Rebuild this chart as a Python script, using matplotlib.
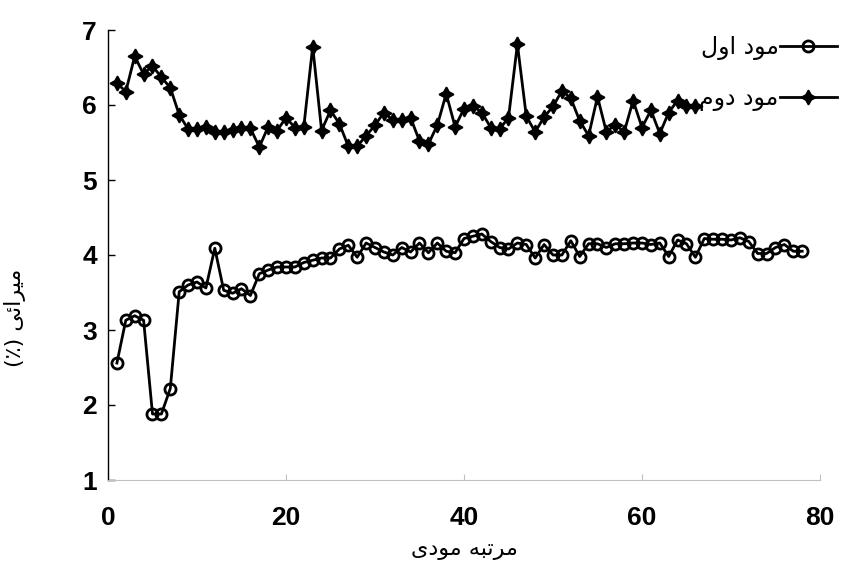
import numpy as np
import matplotlib
matplotlib.use("Agg")
import matplotlib.pyplot as plt

# damping (%) per mode order
mode1 = [2.56, 3.13, 3.19, 3.13, 1.88, 1.88, 2.22, 3.51, 3.60, 3.64,
         3.56, 4.09, 3.53, 3.49, 3.55, 3.46, 3.75, 3.80, 3.84, 3.84,
         3.84, 3.90, 3.93, 3.96, 3.96, 4.08, 4.13, 3.97, 4.16, 4.10,
         4.04, 4.00, 4.10, 4.04, 4.16, 4.03, 4.16, 4.05, 4.03, 4.22,
         4.25, 4.28, 4.18, 4.10, 4.08, 4.16, 4.14, 3.96, 4.14, 4.00,
         4.00, 4.19, 3.98, 4.15, 4.15, 4.10, 4.15, 4.15, 4.16, 4.16,
         4.14, 4.16, 3.98, 4.20, 4.15, 3.97, 4.22, 4.21, 4.21, 4.20,
         4.23, 4.18, 4.02, 4.02, 4.10, 4.14, 4.05, 4.05]
mode2 = [6.29, 6.18, 6.65, 6.41, 6.52, 6.37, 6.23, 5.87, 5.68, 5.68,
         5.71, 5.64, 5.64, 5.67, 5.69, 5.69, 5.44, 5.71, 5.66, 5.83,
         5.70, 5.71, 6.78, 5.66, 5.93, 5.75, 5.45, 5.45, 5.59, 5.73,
         5.90, 5.80, 5.80, 5.83, 5.52, 5.48, 5.73, 6.15, 5.71, 5.95,
         5.99, 5.90, 5.70, 5.68, 5.83, 6.81, 5.85, 5.64, 5.84, 5.98,
         6.19, 6.09, 5.79, 5.59, 6.11, 5.64, 5.74, 5.64, 6.06, 5.70,
         5.93, 5.62, 5.90, 6.06, 5.99, 5.98]
x1 = np.arange(1, len(mode1) + 1)
x2 = np.arange(1, len(mode2) + 1)

xticks = [0, 20, 40, 60, 80]
yticks = [1, 2, 3, 4, 5, 6, 7]

# Persian text, already in shaped (presentation form) visual order
label1 = "\uFEDD\uFEED\uFE8D \uFEA9\uFEEE\uFEE3"                    # مود اول
label2 = "\uFEE1\uFEED\uFEA9 \uFEA9\uFEEE\uFEE3"                    # مود دوم
xlabel = "\uFBFC\uFEA9\uFEEE\uFEE3 \uFEEA\uFE92\uFE97\uFEAE\uFEE3"  # مرتبه مودی
ylabel = "(\u066A) \uFBFD\uFE8B\uFE8D\uFEAE\uFBFF\uFEE3"            # میرائی (٪)

plt.rcParams['font.family'] = ['DejaVu Sans']

fig = plt.figure(figsize=(8.45, 5.63), dpi=100)
ax = fig.add_axes([108 / 845, 1 - 480 / 563, 712 / 845, 450 / 563])

ax.plot(x1, mode1, '-o', color='black', lw=2.0, ms=8, mfc='none', mew=2.0, label=label1)
ax.plot(x2, mode2, '-', marker=(4, 1, 0), color='black', lw=2.0, ms=10.5, mew=1.2, label=label2)

ax.set_xlim(0, 80)
ax.set_ylim(1, 7)
ax.set_xticks(xticks)
ax.set_yticks(yticks)

for s in ['top', 'right']:
    ax.spines[s].set_visible(False)
ax.spines['bottom'].set_color('#c0c0c0')
ax.spines['bottom'].set_linewidth(0.8)
ax.spines['left'].set_linewidth(1.0)

ax.tick_params(axis='y', direction='in', length=5, width=1, pad=8)
ax.tick_params(axis='x', direction='in', length=4, width=0.8, color='#c0c0c0', pad=19)
for t in ax.get_xticklabels() + ax.get_yticklabels():
    t.set_fontfamily('Liberation Sans')
    t.set_fontweight('bold')
    t.set_fontsize(19)

ax.set_xlabel(xlabel, fontsize=16, labelpad=7)
ax.set_ylabel(ylabel, fontsize=16)
ax.yaxis.set_label_coords(-0.115, 0.36)

fig.legend(loc='upper right', bbox_to_anchor=(0.99, 1 - 35 / 563), frameon=False,
           markerfirst=False, fontsize=17, handlelength=2.4, handletextpad=0.05,
           labelspacing=1.1, borderpad=0, borderaxespad=0)

fig.savefig('out.png', dpi=100)
